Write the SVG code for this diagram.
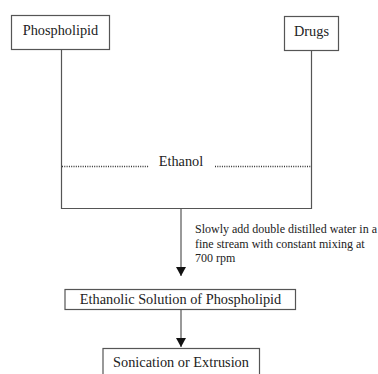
<svg xmlns="http://www.w3.org/2000/svg" width="378" height="374" viewBox="0 0 378 374">
<defs>
<style>
.box{fill:#fff;stroke:#555;stroke-width:1.2}
.ln{fill:none;stroke:#555;stroke-width:1.2}
.dot{fill:none;stroke:#333;stroke-width:1.3;stroke-dasharray:1 1.3}
text{font-family:'Liberation Serif',Tinos,'Times New Roman',Times,serif;fill:#222}
.t{font-size:14.3px}
.s{font-size:12px}
</style>
<marker id="ah" markerWidth="9" markerHeight="10" refX="9" refY="5" orient="auto" markerUnits="userSpaceOnUse">
<path d="M0,0 L9,5 L0,10 Z" fill="#111"/>
</marker>
</defs>
<rect width="378" height="374" fill="#fff"/>
<g id="connectors">
<path class="ln" d="M61.5,49.5 V208.5 H311.5 V50.5"/>
<path class="dot" d="M62,166.5 H149"/>
<path class="dot" d="M215,166.5 H311"/>
<path class="ln" d="M181,208.5 V276" marker-end="url(#ah)"/>
<path class="ln" d="M181,309.5 V347" marker-end="url(#ah)"/>
</g>
<g id="phospholipid">
<rect class="box" x="11.5" y="15.5" width="98" height="34"/>
<text class="t" x="60.5" y="35" text-anchor="middle">Phospholipid</text>
</g>
<g id="drugs">
<rect class="box" x="284.5" y="16.5" width="54" height="34"/>
<text class="t" x="311.5" y="36" text-anchor="middle">Drugs</text>
</g>
<g id="ethanol">
<text class="t" x="181" y="165.5" text-anchor="middle">Ethanol</text>
</g>
<g id="note">
<text class="s" x="195" y="233">Slowly add double distilled water in a</text>
<text class="s" x="195" y="247.5">fine stream with constant mixing at</text>
<text class="s" x="195" y="262">700 rpm</text>
</g>
<g id="ethanolic-solution">
<rect class="box" x="65" y="289.5" width="230.5" height="20"/>
<text class="t" x="180.5" y="304" text-anchor="middle">Ethanolic Solution of Phospholipid</text>
</g>
<g id="sonication">
<rect class="box" x="103" y="348.5" width="156.5" height="30"/>
<text class="t" x="181" y="366.5" text-anchor="middle">Sonication or Extrusion</text>
</g>
</svg>
